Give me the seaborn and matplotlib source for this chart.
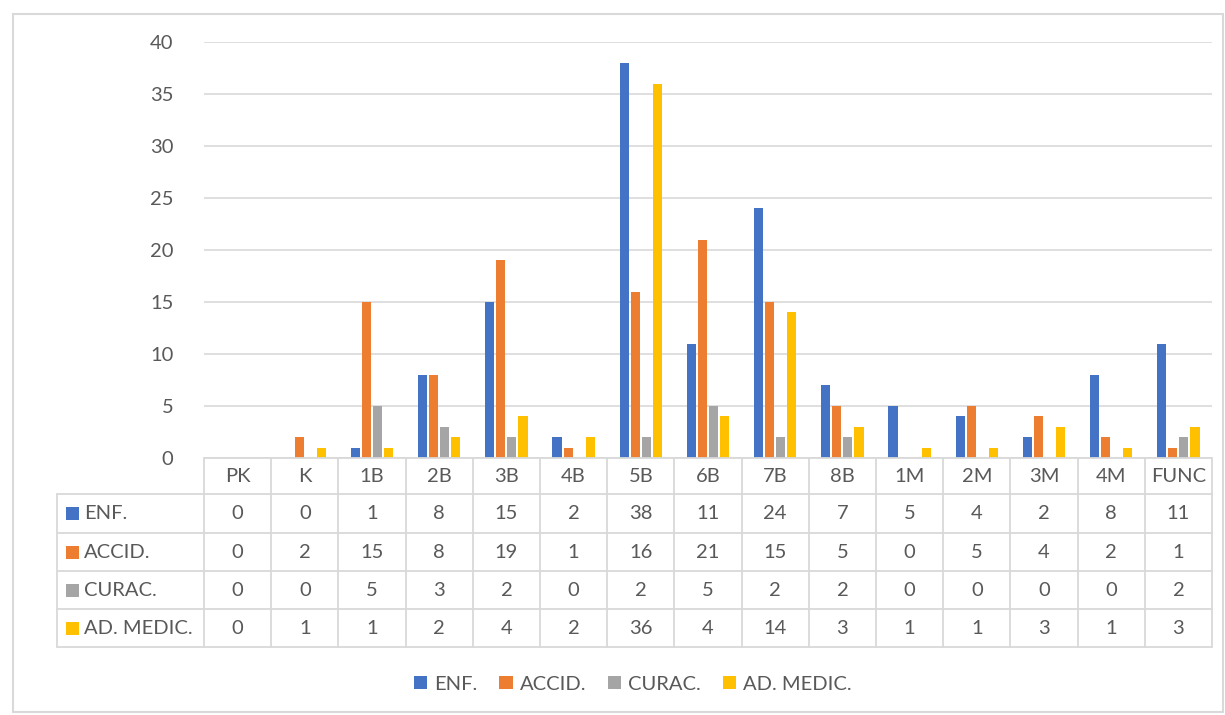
import matplotlib
matplotlib.use("Agg")
import matplotlib.pyplot as plt
import seaborn as sns
import pandas as pd
from matplotlib.patches import Rectangle
from matplotlib.lines import Line2D

categories = ["PK", "K", "1B", "2B", "3B", "4B", "5B", "6B", "7B", "8B", "1M", "2M", "3M", "4M", "FUNC"]
series_names = ["ENF.", "ACCID.", "CURAC.", "AD. MEDIC."]
enf = [0, 0, 1, 8, 15, 2, 38, 11, 24, 7, 5, 4, 2, 8, 11]
accid = [0, 2, 15, 8, 19, 1, 16, 21, 15, 5, 0, 5, 4, 2, 1]
curac = [0, 0, 5, 3, 2, 0, 2, 5, 2, 2, 0, 0, 0, 0, 2]
admedic = [0, 1, 1, 2, 4, 2, 36, 4, 14, 3, 1, 1, 3, 1, 3]
yticks = [0, 5, 10, 15, 20, 25, 30, 35, 40]
colors = ["#4472C4", "#ED7D31", "#A5A5A5", "#FFC000"]

series_vals = [enf, accid, curac, admedic]
rows = []
for name, vals in zip(series_names, series_vals):
    for c, v in zip(categories, vals):
        rows.append({"cat": c, "series": name, "value": v})
df = pd.DataFrame(rows)

sns.set_theme(style="white")
plt.rcParams["font.family"] = ["Lato", "DejaVu Sans"]
TXT = "#595959"
GRID = "#D9D9D9"
FS = 14.5

W, H = 1225, 715
fig = plt.figure(figsize=(W / 100, H / 100), dpi=100)

def fx(x):
    return x / W

def fy(y):
    return 1 - y / H

x0, x1 = 204, 1212
y_top, y_zero = 42, 458
ax = fig.add_axes([fx(x0), fy(y_zero), fx(x1) - fx(x0), fy(y_top) - fy(y_zero)])
sns.barplot(data=df, x="cat", y="value", hue="series", palette=colors,
            order=categories, hue_order=series_names, width=0.66, gap=0.18,
            ax=ax, legend=False, saturation=1, linewidth=0)
ax.set_ylim(0, 40)
ax.set_xlim(-0.5, len(categories) - 0.5)
ax.set_yticks(yticks)
ax.set_yticklabels([str(t) for t in yticks], color=TXT, fontsize=FS)
ax.tick_params(axis="y", length=0, pad=22)
ax.set_xticks([])
ax.set_xlabel("")
ax.set_ylabel("")
ax.yaxis.grid(True, color=GRID, linewidth=1.2)
ax.set_axisbelow(True)
for s in ax.spines.values():
    s.set_visible(False)

# outer frame
fig.add_artist(Rectangle((fx(13), fy(712)), fx(1223) - fx(13), fy(14) - fy(712),
                         transform=fig.transFigure, fill=False, edgecolor=GRID, linewidth=1.5))

# data table
row_y = [458, 494, 533, 571, 609, 647]
left_x = 57
colw = (x1 - x0) / len(categories)
lw = 1.3

def hline(xa, xb, y):
    fig.add_artist(Line2D([fx(xa), fx(xb)], [fy(y), fy(y)], transform=fig.transFigure, color=GRID, linewidth=lw))

def vline(x, ya, yb):
    fig.add_artist(Line2D([fx(x), fx(x)], [fy(ya), fy(yb)], transform=fig.transFigure, color=GRID, linewidth=lw))

hline(x0, x1, row_y[0])
for y in row_y[1:]:
    hline(left_x, x1, y)
vline(left_x, row_y[1], row_y[-1])
for i in range(len(categories) + 1):
    vline(x0 + i * colw, row_y[0], row_y[-1])

for i, c in enumerate(categories):
    cx = x0 + (i + 0.5) * colw
    fig.text(fx(cx), fy((row_y[0] + row_y[1]) / 2), c, ha="center", va="center", color=TXT, fontsize=FS)
for r, (name, vals, col) in enumerate(zip(series_names, series_vals, colors)):
    cy = (row_y[r + 1] + row_y[r + 2]) / 2
    fig.add_artist(Rectangle((fx(66), fy(cy + 6.5)), fx(79) - fx(66), fy(cy - 6.5) - fy(cy + 6.5),
                             transform=fig.transFigure, facecolor=col, edgecolor="none"))
    fig.text(fx(84), fy(cy), name, ha="left", va="center", color=TXT, fontsize=FS)
    for i, v in enumerate(vals):
        cx = x0 + (i + 0.5) * colw
        fig.text(fx(cx), fy(cy), str(v), ha="center", va="center", color=TXT, fontsize=FS)

# legend
handles = [Rectangle((0, 0), 1, 1, facecolor=c, edgecolor="none") for c in colors]
fig.legend(handles, series_names, loc="center", bbox_to_anchor=(fx(633), fy(684)), ncol=4,
           frameon=False, fontsize=FS, labelcolor=TXT, handlelength=0.65, handleheight=0.65,
           handletextpad=0.35, columnspacing=1.1)

fig.savefig("out.png", dpi=100)
